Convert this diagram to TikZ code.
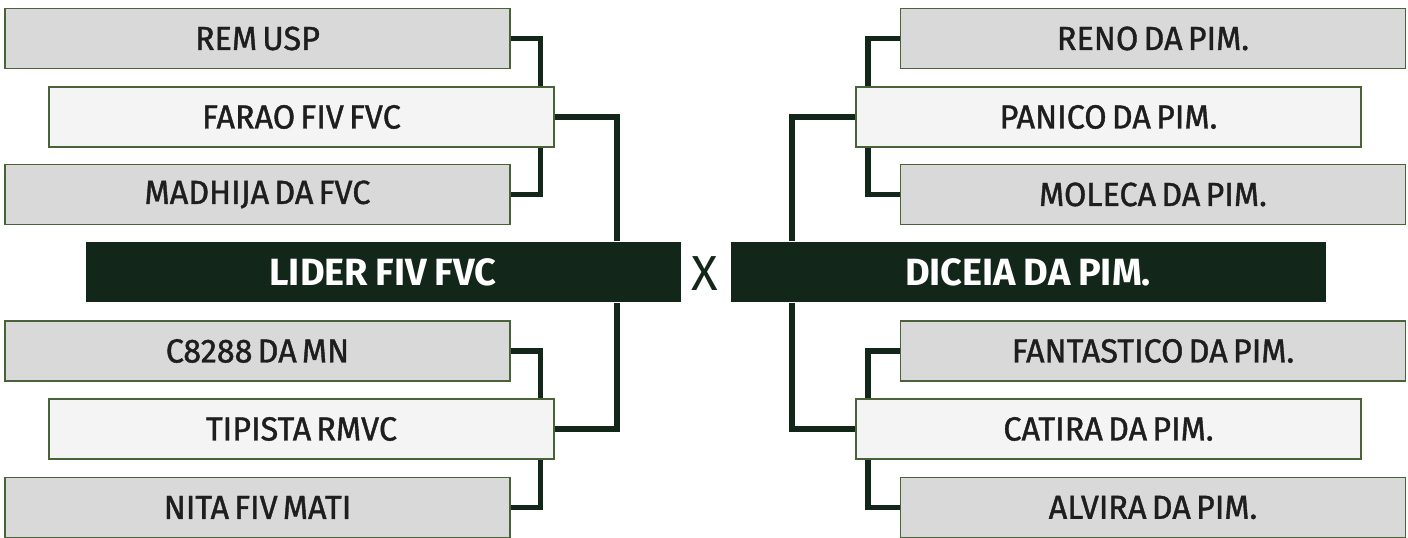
\documentclass[tikz,border=0pt]{standalone}
\usepackage{fontspec}
\setmainfont{Fira Sans}
\newfontfamily\teamfont{Fira Sans}[FakeStretch=0.97, FakeBold=1.2, WordSpace=0.6]
\newfontfamily\finalfont{Fira Sans Bold}[WordSpace=0.85]
\usepackage{tikz}
\usetikzlibrary{positioning}

\definecolor{chavegreen}{HTML}{12261A}
\definecolor{chaveedge}{HTML}{4A6238}
\definecolor{chavegrey}{HTML}{D9D9D9}
\definecolor{chavelight}{HTML}{F4F4F4}
\definecolor{chavetext}{HTML}{1E1E1E}

\tikzset{
  team/.style={draw=chaveedge, line width=0.5pt, minimum width=5.05cm,
    minimum height=0.6cm, inner sep=0pt, text=chavetext,
    font=\teamfont\fontsize{9.5}{11}\selectfont},
  greybox/.style={team, fill=chavegrey},
  lightbox/.style={team, fill=chavelight},
  finalbox/.style={fill=chavegreen, minimum width=5.95cm, minimum height=0.6cm,
    inner sep=0pt, text=white, font=\finalfont\fontsize{10.8}{12}\selectfont},
  link/.style={draw=chavegreen, line width=1.5pt}
}

\begin{document}
\begin{tikzpicture}
\useasboundingbox (0,0) rectangle (14.08,-5.38);
% left side
\node[greybox] (rem) at (2.575,-0.385) {REM USP};
\node[lightbox] (farao) at (3.015,-1.17) {FARAO FIV FVC};
\node[greybox] (madhija) at (2.575,-1.945) {MADHIJA DA FVC};
\node[finalbox] (lider) at (3.83,-2.72) {LIDER FIV FVC};
\node[greybox] (c8288) at (2.575,-3.51) {C8288 DA MN};
\node[lightbox] (tipista) at (3.015,-4.29) {TIPISTA RMVC};
\node[greybox] (nita) at (2.575,-5.075) {NITA FIV MATI};
% right side
\node[greybox] (reno) at (11.53,-0.385) {RENO DA PIM.};
\node[lightbox] (panico) at (11.085,-1.17) {PANICO DA PIM.};
\node[greybox] (moleca) at (11.53,-1.945) {MOLECA DA PIM.};
\node[finalbox] (diceia) at (10.28,-2.72) {DICEIA DA PIM.};
\node[greybox] (fantastico) at (11.53,-3.51) {FANTASTICO DA PIM.};
\node[lightbox] (catira) at (11.085,-4.29) {CATIRA DA PIM.};
\node[greybox] (alvira) at (11.53,-5.075) {ALVIRA DA PIM.};
\node[text=chavegreen, font=\fontsize{14}{16}\selectfont] (versus) at (7.05,-2.74) {X};

\draw[link] (rem.east) -| (5.405,0 |- farao.north);
\draw[link] (5.405,0 |- farao.south) |- (madhija.east);
\draw[link] (farao.east) -| (6.17,0 |- lider.north);
\draw[link] (c8288.east) -| (5.405,0 |- tipista.north);
\draw[link] (5.405,0 |- tipista.south) |- (nita.east);
\draw[link] (tipista.east) -| (6.17,0 |- lider.south);

\draw[link] (reno.west) -| (8.68,0 |- panico.north);
\draw[link] (8.68,0 |- panico.south) |- (moleca.west);
\draw[link] (panico.west) -| (7.92,0 |- diceia.north);
\draw[link] (fantastico.west) -| (8.68,0 |- catira.north);
\draw[link] (8.68,0 |- catira.south) |- (alvira.west);
\draw[link] (catira.west) -| (7.92,0 |- diceia.south);
\end{tikzpicture}
\end{document}
